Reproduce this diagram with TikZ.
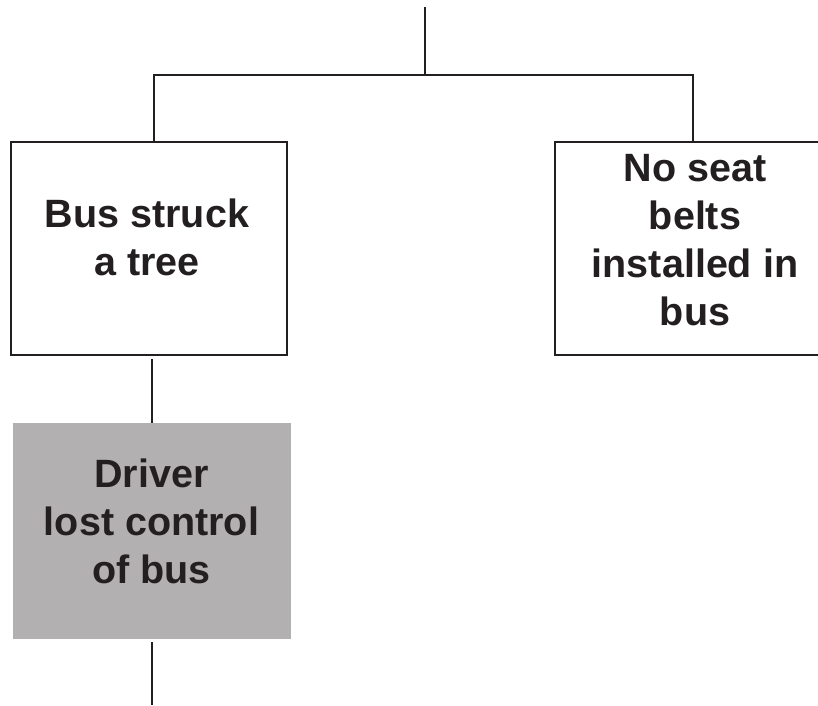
\documentclass[tikz,border=0pt]{standalone}
\usepackage{fontspec}
\setmainfont{Liberation Sans}
\definecolor{ink}{HTML}{231F20}
\definecolor{shade}{HTML}{B2B0B1}
\begin{document}
\begin{tikzpicture}[x=1pt,y=-1pt,
  wire/.style={draw=ink,line width=2.9pt},
  eventbox/.style={rectangle,draw=ink,line width=2.9pt,inner sep=0pt},
  greybox/.style={rectangle,fill=shade,draw=none,inner sep=0pt},
  caption/.style={align=center,inner sep=0pt,anchor=base,text=ink,
    font=\fontsize{39.5}{48}\selectfont\bfseries}]
\useasboundingbox (0,0) rectangle (818,705);

% event boxes
\node[eventbox,minimum width=276pt,minimum height=213pt] (lbox) at (149,248.5) {};
\node[eventbox,minimum width=280pt,minimum height=213pt] (rbox) at (695,248.5) {};
\node[greybox,minimum width=278pt,minimum height=216pt] (gbox) at (152,531) {};

% box texts
\node[caption] (ltext) at (147,275) {Bus struck\\a tree};
\node[caption] (rtext) at (695,325) {No seat\\belts\\installed in\\bus};
\node[caption] (gtext) at (151.5,583) {Driver\\lost control\\of bus};

% junction points
\coordinate (top) at (425,7);
\coordinate (jn) at (425,75);
\coordinate (jl) at (154,75);
\coordinate (jr) at (693,75);
\coordinate (bot) at (152,705);

% connectors
\draw[wire] (top) -- (jn);
\draw[wire] (jl |- lbox.north) -- (jl) -- (jr) -- (jr |- rbox.north);
\draw[wire] ([yshift=-3pt]lbox.south -| gbox.north) -- (gbox.north);
\draw[wire] ([yshift=-3pt]gbox.south) -- (bot);
\end{tikzpicture}
\end{document}
